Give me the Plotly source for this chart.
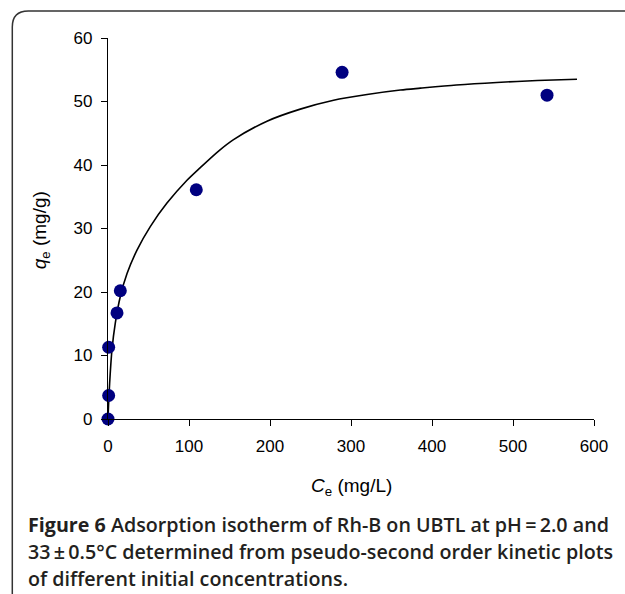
import plotly.graph_objects as go

# Data
ce_points = [0, 0.8, 0.8, 11.1, 15.2, 109, 289, 542]
qe_points = [0, 3.7, 11.3, 16.7, 20.2, 36.1, 54.6, 51.0]

ce_curve = [0, 0.6, 2.0, 4.9, 9.0, 15.2, 23.5, 35.8, 52.2, 72.8, 97.5, 114, 136.5, 155,
            196.3, 237.4, 278.5, 319.8, 361, 385.6, 430, 480, 530, 579]
qe_curve = [0, 2.0, 5.6, 10.9, 15.1, 19.3, 22.9, 26.6, 30.3, 34.0, 37.6, 39.6, 42.2, 44.0,
            46.9, 48.8, 50.2, 51.1, 51.8, 52.1, 52.6, 53.0, 53.3, 53.5]

x_ticks = [0, 100, 200, 300, 400, 500, 600]
y_ticks = [0, 10, 20, 30, 40, 50, 60]

caption_lines = [
    "<b>Figure 6</b> Adsorption isotherm of Rh-B on UBTL at pH\u2009=\u20092.0 and",
    "33\u2009\u00b1\u20090.5°C determined from pseudo-second order kinetic plots",
    "of different initial concentrations.",
]

W, H = 625, 594
L, R, T, B = 107.7, 31.3, 38, 175
PW, PH = W - L - R, H - T - B


def px(xp):
    return (xp - L) / PW


def py(yp):
    return (H - B - yp) / PH


fig = go.Figure()
fig.add_trace(go.Scatter(x=ce_curve, y=qe_curve, mode="lines",
                         line=dict(color="black", width=1.6, shape="spline", smoothing=0.8),
                         hoverinfo="skip", showlegend=False, cliponaxis=False))
fig.add_trace(go.Scatter(x=ce_points, y=qe_points, mode="markers",
                         marker=dict(color="#000080", size=13),
                         showlegend=False, cliponaxis=False))

axis_common = dict(showgrid=False, zeroline=False, showline=True, linecolor="black",
                   linewidth=1.3, ticks="outside", ticklen=6, tickcolor="black",
                   tickwidth=1.3, ticklabelstandoff=5,
                   tickfont=dict(family="Liberation Sans", size=17, color="black"))

fig.update_xaxes(range=[0, 600], tickvals=x_ticks, **axis_common)
fig.update_yaxes(range=[0, 60], tickvals=y_ticks, **axis_common)

annotations = [
    dict(text="<i>C</i><sub>e</sub> (mg/L)", xref="paper", yref="paper",
         x=px(351), y=py(487), showarrow=False, xanchor="center", yanchor="middle",
         font=dict(family="Liberation Sans", size=19, color="black")),
    dict(text="<i>q</i><sub>e</sub> (mg/g)", xref="paper", yref="paper",
         x=px(41), y=py(230), showarrow=False, xanchor="center", yanchor="middle",
         textangle=-90,
         font=dict(family="Liberation Sans", size=19, color="black")),
]
for i, line in enumerate(caption_lines):
    annotations.append(dict(text=line, xref="paper", yref="paper",
                            x=px(26), y=py(524 + 27 * i), showarrow=False,
                            xanchor="left", yanchor="middle",
                            font=dict(family="Open Sans", size=19.7, color="#231f20",
                                      weight=600)))

# rounded frame around the figure (open to the right and bottom)
r = 16
x0, y0 = 12, 11
path = (f"M {px(x0)},{py(H + 5)} L {px(x0)},{py(y0 + r)} "
        f"Q {px(x0)},{py(y0)} {px(x0 + r)},{py(y0)} L {px(W + 10)},{py(y0)}")

fig.update_layout(
    width=W, height=H,
    margin=dict(l=L, r=R, t=T, b=B),
    paper_bgcolor="white", plot_bgcolor="white",
    annotations=annotations,
    shapes=[dict(type="path", path=path, xref="paper", yref="paper",
                 line=dict(color="#333333", width=1.5))],
)

fig.write_html("out.html")
